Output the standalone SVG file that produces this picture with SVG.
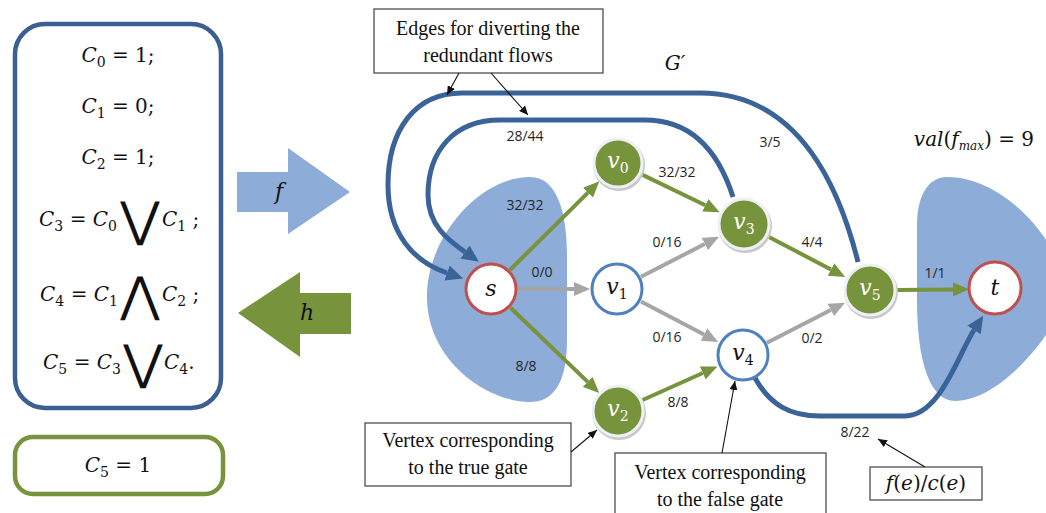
<svg xmlns="http://www.w3.org/2000/svg" width="1046" height="513" viewBox="0 0 1046 513">
<defs>
<style>
.math{font-family:"DejaVu Serif","Liberation Serif",serif;font-size:20px;fill:#111}
.it{font-style:italic}
.sub{font-size:14px;font-style:normal}
.lbl{font-family:"Open Sans","Liberation Sans",sans-serif;font-size:14px;fill:#262626;text-anchor:middle}
.call{font-family:"Liberation Serif","Times New Roman","DejaVu Serif",serif;font-size:20px;fill:#111;text-anchor:middle}
.box{fill:#fff;stroke:#404040;stroke-width:1.2}
.cl{stroke:#111;stroke-width:1.1;fill:none;marker-end:url(#ak)}
.eg{stroke:#77933c;stroke-width:4;fill:none;marker-end:url(#ag)}
.ey{stroke:#a6a6a6;stroke-width:4;fill:none;marker-end:url(#ay)}
.eb{stroke:#3a6498;stroke-width:5;fill:none;marker-end:url(#ab)}
.gn{fill:#77933c;stroke:#eef1f4;stroke-width:3}
.sh{fill:#c8c8c8}
.wn{fill:#fff;stroke-width:3}
.nl{font-family:"DejaVu Serif","Liberation Serif",serif;font-size:22px;font-style:italic;text-anchor:middle}
.blob{fill:#8eacd8}
.big{font-family:"DejaVu Sans",sans-serif;font-size:48px;fill:#111;text-anchor:middle}
</style>
<marker id="ag" markerWidth="16" markerHeight="14" refX="0" refY="7" orient="auto" markerUnits="userSpaceOnUse"><path d="M0,0 L16,7 L0,14 Z" fill="#77933c"/></marker>
<marker id="ay" markerWidth="16" markerHeight="14" refX="0" refY="7" orient="auto" markerUnits="userSpaceOnUse"><path d="M0,0 L16,7 L0,14 Z" fill="#a6a6a6"/></marker>
<marker id="ab" markerWidth="17" markerHeight="16" refX="0" refY="8" orient="auto" markerUnits="userSpaceOnUse"><path d="M0,0 L17,8 L0,16 Z" fill="#3a6498"/></marker>
<marker id="ak" markerWidth="9" markerHeight="8" refX="9" refY="4" orient="auto" markerUnits="userSpaceOnUse"><path d="M0,0 L9,4 L0,8 Z" fill="#111"/></marker>
</defs>
<rect width="1046" height="513" fill="#fff"/>

<g id="formulas">
<rect x="15" y="24" width="206" height="384" rx="30" fill="#fff" stroke="#3b5f92" stroke-width="4.5"/>
<text class="math" x="118" y="62" text-anchor="middle"><tspan class="it">C</tspan><tspan class="sub" dy="5">0</tspan><tspan dy="-5"> = 1;</tspan></text>
<text class="math" x="118" y="113" text-anchor="middle"><tspan class="it">C</tspan><tspan class="sub" dy="5">1</tspan><tspan dy="-5"> = 0;</tspan></text>
<text class="math" x="118" y="164" text-anchor="middle"><tspan class="it">C</tspan><tspan class="sub" dy="5">2</tspan><tspan dy="-5"> = 1;</tspan></text>
<text class="math" x="117" y="226" text-anchor="end"><tspan class="it">C</tspan><tspan class="sub" dy="5">3</tspan><tspan dy="-5"> = </tspan><tspan class="it">C</tspan><tspan class="sub" dy="5">0</tspan></text>
<text class="big" x="140" y="236">⋁</text>
<text class="math" x="162" y="226"><tspan class="it">C</tspan><tspan class="sub" dy="5">1</tspan><tspan dy="-5"> ;</tspan></text>
<text class="math" x="118" y="301" text-anchor="end"><tspan class="it">C</tspan><tspan class="sub" dy="5">4</tspan><tspan dy="-5"> = </tspan><tspan class="it">C</tspan><tspan class="sub" dy="5">1</tspan></text>
<text class="big" x="140" y="311">⋀</text>
<text class="math" x="162" y="301"><tspan class="it">C</tspan><tspan class="sub" dy="5">2</tspan><tspan dy="-5"> ;</tspan></text>
<text class="math" x="121" y="369" text-anchor="end"><tspan class="it">C</tspan><tspan class="sub" dy="5">5</tspan><tspan dy="-5"> = </tspan><tspan class="it">C</tspan><tspan class="sub" dy="5">3</tspan></text>
<text class="big" x="143" y="379">⋁</text>
<text class="math" x="164" y="369"><tspan class="it">C</tspan><tspan class="sub" dy="5">4</tspan><tspan dy="-5">.</tspan></text>
</g>

<g id="result">
<rect x="15" y="437" width="208" height="57" rx="18" fill="#fff" stroke="#77933c" stroke-width="4.5"/>
<text class="math" x="118" y="472" text-anchor="middle"><tspan class="it">C</tspan><tspan class="sub" dy="5">5</tspan><tspan dy="-5"> = 1</tspan></text>
</g>

<g id="arrow-f">
<path d="M237,172 L288,172 L288,148 L350,192 L288,234 L288,212 L237,212 Z" fill="#8eacd8"/>
<text class="nl" x="279" y="199" fill="#111">f</text>
</g>
<g id="arrow-h">
<path d="M238,313 L300,272 L300,293 L351,293 L351,334 L300,334 L300,357 Z" fill="#77933c"/>
<text class="nl" x="307" y="320" fill="#111">h</text>
</g>

<g id="regions">
<path class="blob" d="M530,177 C556,177 567,210 567,255 L567,340 C567,385 552,402 530,402 C488,402 429,362 427,300 C425,240 478,177 530,177 Z"/>
<path class="blob" d="M947,177 C990,177 1028,212 1046,240 L1046,335 C1020,372 985,401 955,401 C930,401 917,362 917,300 L917,225 C917,196 928,177 947,177 Z"/>
</g>

<text x="675" y="70" class="math it" font-size="20" text-anchor="middle">G′</text>
<text x="1034" y="146" class="math" font-size="16" text-anchor="end"><tspan class="it">val</tspan>(<tspan class="it">f</tspan><tspan class="it" font-size="12" dy="4">max</tspan><tspan dy="-4">) = 9</tspan></text>

<g id="connectors">
<path class="eb" d="M733,197 C718,150 690,120 645,120 L500,120 C455,120 428,150 428,195 C428,225 448,240 465,252"/>
<path class="eb" d="M858,262 C840,190 800,93 700,93 L462,93 C415,93 388,130 388,185 C388,235 415,262 447,273"/>
<path class="eb" d="M755,378 C770,405 790,416 820,416 L905,416 C940,416 958,355 974,330"/>
<line class="eg" x1="510" y1="270" x2="588" y2="192.6"/>
<line class="ey" x1="518" y1="289" x2="574" y2="289"/>
<line class="eg" x1="510.5" y1="307.7" x2="587.7" y2="381.9"/>
<line class="eg" x1="640.5" y1="173.9" x2="705.3" y2="205.3"/>
<line class="ey" x1="641" y1="276.7" x2="704.8" y2="244"/>
<line class="ey" x1="641" y1="301.5" x2="704" y2="334.5"/>
<line class="eg" x1="768" y1="236.5" x2="831" y2="269.5"/>
<line class="ey" x1="767" y1="342.7" x2="830.8" y2="310"/>
<line class="eg" x1="642.6" y1="400" x2="702.8" y2="373"/>
<line class="eg" x1="897" y1="290" x2="953" y2="289.5"/>
</g>

<g id="edge-labels">
<text class="lbl" x="525" y="141">28/44</text>
<text class="lbl" x="525" y="210">32/32</text>
<text class="lbl" x="542" y="277">0/0</text>
<text class="lbl" x="677" y="177">32/32</text>
<text class="lbl" x="667" y="247">0/16</text>
<text class="lbl" x="667" y="342">0/16</text>
<text class="lbl" x="770" y="147">3/5</text>
<text class="lbl" x="812" y="247">4/4</text>
<text class="lbl" x="935" y="278">1/1</text>
<text class="lbl" x="812" y="343">0/2</text>
<text class="lbl" x="855" y="437">8/22</text>
<text class="lbl" x="526" y="371">8/8</text>
<text class="lbl" x="678" y="407">8/8</text>
</g>

<g id="node-s"><circle cx="491" cy="289" r="25" class="wn" stroke="#c0504d"/><text class="nl" x="491" y="296" fill="#111">s</text></g>
<g id="node-v1"><circle cx="617" cy="289" r="25" class="wn" stroke="#4f81bd"/><text class="nl" x="617" y="294" fill="#111">v<tspan class="sub" font-size="15" dy="5">1</tspan></text></g>
<g id="node-v4"><circle cx="743" cy="355" r="25" class="wn" stroke="#4f81bd"/><text class="nl" x="743" y="360" fill="#111">v<tspan class="sub" font-size="15" dy="5">4</tspan></text></g>
<g id="node-t"><circle cx="995" cy="288" r="26" class="wn" stroke="#c0504d"/><text class="nl" x="995" y="295" fill="#111">t</text></g>
<g id="node-v0"><circle cx="619" cy="165" r="26" class="sh"/><circle cx="618" cy="163" r="24" class="gn"/><text class="nl" x="618" y="168" fill="#fff">v<tspan class="sub" font-size="15" dy="5">0</tspan></text></g>
<g id="node-v3"><circle cx="745" cy="226" r="27" class="sh"/><circle cx="744" cy="224" r="25" class="gn"/><text class="nl" x="744" y="229" fill="#fff">v<tspan class="sub" font-size="15" dy="5">3</tspan></text></g>
<g id="node-v5"><circle cx="871" cy="292" r="27" class="sh"/><circle cx="870" cy="290" r="25" class="gn"/><text class="nl" x="870" y="295" fill="#fff">v<tspan class="sub" font-size="15" dy="5">5</tspan></text></g>
<g id="node-v2"><circle cx="619" cy="413" r="27" class="sh"/><circle cx="618" cy="411" r="25" class="gn"/><text class="nl" x="618" y="416" fill="#fff">v<tspan class="sub" font-size="15" dy="5">2</tspan></text></g>

<g id="callout-edges">
<rect class="box" x="374" y="9" width="229" height="64"/>
<text class="call" x="488" y="35">Edges for diverting the</text>
<text class="call" x="488" y="62">redundant flows</text>
<line class="cl" x1="459" y1="73" x2="447" y2="95"/>
<line class="cl" x1="491" y1="73" x2="528" y2="115"/>
</g>
<g id="callout-true">
<rect class="box" x="365" y="423" width="206" height="63"/>
<text class="call" x="468" y="447">Vertex corresponding</text>
<text class="call" x="468" y="474">to the true gate</text>
<line class="cl" x1="571" y1="452" x2="597" y2="430"/>
</g>
<g id="callout-false">
<rect class="box" x="615" y="453" width="211" height="72"/>
<text class="call" x="720" y="479">Vertex corresponding</text>
<text class="call" x="720" y="506">to the false gate</text>
<line class="cl" x1="722" y1="453" x2="735" y2="381"/>
</g>
<g id="callout-fc">
<rect class="box" x="870" y="467" width="112" height="33"/>
<text class="math" x="926" y="490" font-size="18" text-anchor="middle"><tspan class="it">f</tspan>(<tspan class="it">e</tspan>)/<tspan class="it">c</tspan>(<tspan class="it">e</tspan>)</text>
<line class="cl" x1="925" y1="467" x2="878" y2="439"/>
</g>
</svg>
